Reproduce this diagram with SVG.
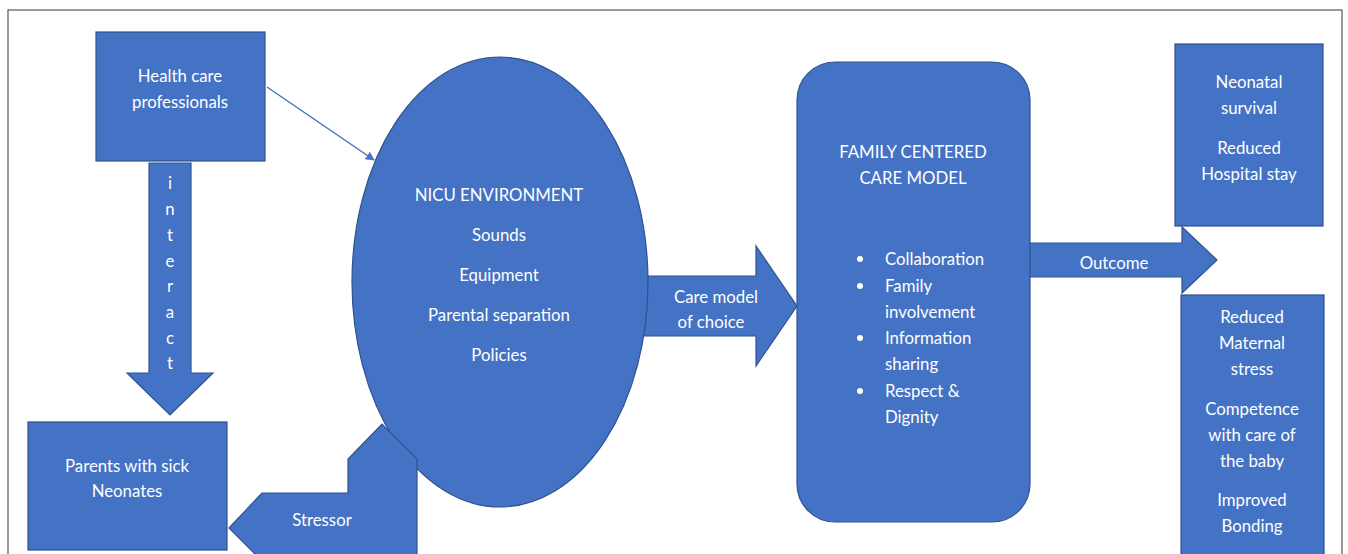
<svg xmlns="http://www.w3.org/2000/svg" width="1348" height="554" viewBox="0 0 1348 554">
  <style>
    .shape { fill: #4472C4; stroke: #2F528F; stroke-width: 1.2; }
    .lbl { font-family: Lato, "Open Sans", "Liberation Sans", sans-serif; font-size: 16.8px; fill: #FFFFFF; text-anchor: middle; }
    .lbl-l { font-family: Lato, "Open Sans", "Liberation Sans", sans-serif; font-size: 16.8px; fill: #FFFFFF; }
    .link { stroke: #4472C4; stroke-width: 1.5; fill: none; }
  </style>
  <defs>
    <marker id="arrowhead" viewBox="0 0 10 10" refX="9" refY="5" markerWidth="9" markerHeight="9" markerUnits="userSpaceOnUse" orient="auto">
      <path d="M0,0 L10,5 L0,10 z" fill="#4472C4"/>
    </marker>
  </defs>

  <rect width="1348" height="554" fill="#FFFFFF"/>
  <!-- frame -->
  <rect x="8" y="10" width="1334" height="560" fill="none" stroke="#555555" stroke-width="1.2"/>

  <!-- block arrows and connectors -->
  <g id="connectors">
    <line class="link" x1="267" y1="87" x2="374" y2="160" marker-end="url(#arrowhead)"/>
    <g id="interact-arrow">
      <polygon class="shape" points="149,163 191,163 191,373 213,373 170,415 127,373 149,373"/>
      <text class="lbl" x="170" y="189">i</text>
      <text class="lbl" x="170" y="215">n</text>
      <text class="lbl" x="170" y="241">t</text>
      <text class="lbl" x="170" y="267">e</text>
      <text class="lbl" x="170" y="292">r</text>
      <text class="lbl" x="170" y="318">a</text>
      <text class="lbl" x="170" y="344">c</text>
      <text class="lbl" x="170" y="369">t</text>
    </g>
    <g id="care-model-arrow">
      <polygon class="shape" points="640,276 756,276 756,246 797,306 756,366 756,336 640,336"/>
      <text class="lbl" x="716" y="303">Care model</text>
      <text class="lbl" x="711" y="328">of choice</text>
    </g>
    <g id="outcome-arrow">
      <polygon class="shape" points="1025,243 1182,243 1182,227 1217,260 1182,293 1182,277 1025,277"/>
      <text class="lbl" x="1114" y="269">Outcome</text>
    </g>
  </g>

  <g id="nicu-environment">
    <ellipse class="shape" cx="500" cy="282" rx="148" ry="225"/>
    <text class="lbl" x="499" y="201">NICU ENVIRONMENT</text>
    <text class="lbl" x="499" y="241">Sounds</text>
    <text class="lbl" x="499" y="281">Equipment</text>
    <text class="lbl" x="499" y="321">Parental separation</text>
    <text class="lbl" x="499" y="361">Policies</text>
  </g>

  <g id="stressor-arrow">
    <polygon class="shape" points="229,528 262,493 348,493 348,459 382,424 417,459 417,565 266,565"/>
    <text class="lbl" x="322" y="526">Stressor</text>
  </g>

  <g id="health-care-professionals">
    <rect class="shape" x="96" y="32" width="169" height="129"/>
    <text class="lbl" x="180" y="82">Health care</text>
    <text class="lbl" x="180" y="108">professionals</text>
  </g>

  <g id="parents">
    <rect class="shape" x="28" y="422" width="199" height="128"/>
    <text class="lbl" x="127" y="472">Parents with sick</text>
    <text class="lbl" x="127" y="497">Neonates</text>
  </g>

  <g id="family-centered-care">
    <rect class="shape" x="797" y="62" width="233" height="460" rx="38" ry="38"/>
    <text class="lbl" x="913" y="158">FAMILY CENTERED</text>
    <text class="lbl" x="913" y="184">CARE MODEL</text>
    <circle cx="860" cy="259" r="3" fill="#FFFFFF"/>
    <circle cx="860" cy="286" r="3" fill="#FFFFFF"/>
    <circle cx="860" cy="338" r="3" fill="#FFFFFF"/>
    <circle cx="860" cy="391" r="3" fill="#FFFFFF"/>
    <text class="lbl-l" x="885" y="265">Collaboration</text>
    <text class="lbl-l" x="885" y="292">Family</text>
    <text class="lbl-l" x="885" y="318">involvement</text>
    <text class="lbl-l" x="885" y="344">Information</text>
    <text class="lbl-l" x="885" y="370">sharing</text>
    <text class="lbl-l" x="885" y="397">Respect &amp;</text>
    <text class="lbl-l" x="885" y="423">Dignity</text>
  </g>

  <g id="outcome-neonatal">
    <rect class="shape" x="1175" y="44" width="148" height="182"/>
    <text class="lbl" x="1249" y="88">Neonatal</text>
    <text class="lbl" x="1249" y="114">survival</text>
    <text class="lbl" x="1249" y="154">Reduced</text>
    <text class="lbl" x="1249" y="180">Hospital stay</text>
  </g>

  <g id="outcome-maternal">
    <rect class="shape" x="1181" y="295" width="143" height="275"/>
    <text class="lbl" x="1252" y="323">Reduced</text>
    <text class="lbl" x="1252" y="349">Maternal</text>
    <text class="lbl" x="1252" y="375">stress</text>
    <text class="lbl" x="1252" y="415">Competence</text>
    <text class="lbl" x="1252" y="441">with care of</text>
    <text class="lbl" x="1252" y="467">the baby</text>
    <text class="lbl" x="1252" y="506">Improved</text>
    <text class="lbl" x="1252" y="532">Bonding</text>
  </g>
</svg>
